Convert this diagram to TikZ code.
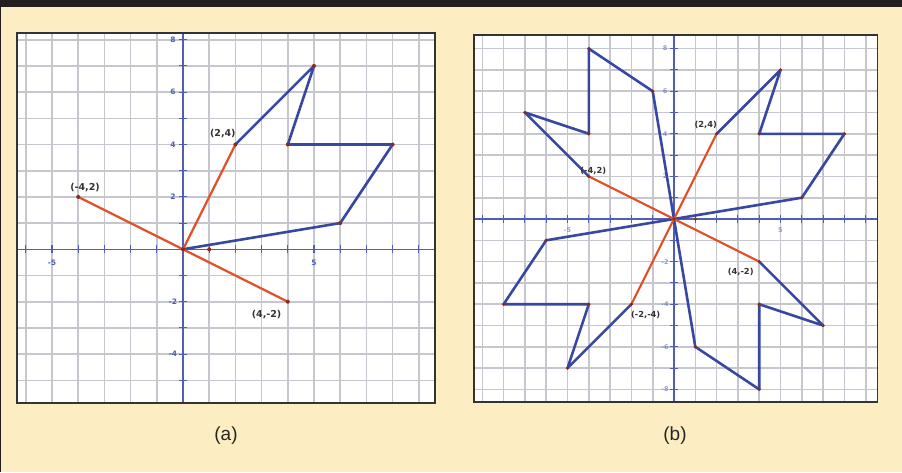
\documentclass[tikz,border=0pt]{standalone}
\usepackage{fontspec}
\setmainfont{Liberation Sans}
\newfontfamily\lblfont{DejaVu Sans}

\definecolor{paper}{HTML}{FCEEC2}
\definecolor{topband}{HTML}{231F20}
\definecolor{gridgray}{HTML}{C6C6CE}
\definecolor{axisblue}{HTML}{4F5EB6}
\definecolor{shapeblue}{HTML}{3847A2}
\definecolor{rayred}{HTML}{E0512B}
\definecolor{dotred}{HTML}{8A2B1C}

\tikzset{
  gridline/.style={gridgray, line width=1.6pt},
  axisline/.style={axisblue, line width=1.1pt},
  shapeline/.style={shapeblue, line width=2.6pt, line join=round},
  rayline/.style={rayred, line width=2.2pt},
  panelframe/.style={draw=black!80, line width=1.3pt},
  ticklbl/.style={text=axisblue, font=\lblfont\bfseries\fontsize{7.5}{8}\selectfont},
  ptlbl/.style={text=black!80, font=\lblfont\bfseries\fontsize{9.5}{10}\selectfont},
  caption/.style={text=black!85, font=\fontsize{19}{21}\selectfont}
}

\begin{document}
\begin{tikzpicture}[x=1pt, y=-1pt]
    \useasboundingbox (0,0) rectangle (902,472);
    \fill[paper] (0,0) rectangle (902,472);
    \fill[topband] (0,0) rectangle (902,7);
    \fill[topband] (0,7) rectangle (1.3,472);

    % (a) one shape, with the rays from the origin
    \begin{scope}[shift={(183pt,-249.3pt)}, x=26.2pt, y=26.2pt]
        \fill[white] (-6.34,-5.87) rectangle (9.62,8.26);
        \foreach \i in {-6,...,9} \draw[gridline] (\i,-5.87) -- (\i,8.26);
        \foreach \j in {-5,...,8} \draw[gridline] (-6.34,\j) -- (9.62,\j);

        \draw[axisline] (-6.34,0) -- (9.62,0);
        \draw[axisline] (0,-5.87) -- (0,8.26);
        \foreach \i in {-6,...,9} \draw[axisline] (\i,-0.15) -- (\i,0.15);
        \foreach \j in {-5,...,8} \draw[axisline] (-0.15,\j) -- (0.15,\j);
        \node[ticklbl] (axm5) at (-5,-0.5) {-5};
        \node[ticklbl] (axp5) at (5,-0.5) {5};
        \foreach \j in {8,6,4,2,-2,-4} \node[ticklbl] (ay\j) at (-0.38,\j) {\j};

        \draw[shapeline] (0,0) -- (6,1) -- (8,4) -- (4,4) -- (5,7) -- (2,4);
        \draw[rayline] (-4,2) -- (0,0) -- (2,4);
        \draw[rayline] (0,0) -- (4,-2);
        \foreach \p in {(0,0),(1,0),(6,1),(8,4),(4,4),(5,7),(2,4),(-4,2),(4,-2)}
            \fill[dotred] \p circle (2pt);

        \node[ptlbl] (pa1) at (1.52,4.43) {(2,4)};
        \node[ptlbl] (pa2) at (-3.74,2.35) {(-4,2)};
        \node[ptlbl] (pa3) at (3.19,-2.51) {(4,-2)};

        \draw[panelframe] (-6.34,-5.87) rectangle (9.62,8.26);
    \end{scope}

    % (b) the shape turned four times about the origin
    \begin{scope}[shift={(674pt,-219pt)}, x=21.3pt, y=21.3pt]
        \fill[white] (-9.39,-8.59) rectangle (9.55,8.64);
        \foreach \i in {-9,...,9} \draw[gridline] (\i,-8.59) -- (\i,8.64);
        \foreach \j in {-8,...,8} \draw[gridline] (-9.39,\j) -- (9.55,\j);

        \draw[axisline] (-9.39,0) -- (9.55,0);
        \draw[axisline] (0,-8.59) -- (0,8.64);
        \foreach \i in {-9,...,9} \draw[axisline] (\i,-0.18) -- (\i,0.18);
        \foreach \j in {-8,...,8} \draw[axisline] (-0.18,\j) -- (0.18,\j);
        \node[ticklbl, opacity=0.6, font=\lblfont\bfseries\fontsize{6.5}{7}\selectfont] (bxm5) at (-5,-0.52) {-5};
        \node[ticklbl, opacity=0.6, font=\lblfont\bfseries\fontsize{6.5}{7}\selectfont] (bxp5) at (5,-0.52) {5};
        \foreach \j in {8,6,4,2,-2,-4,-6,-8}
            \node[ticklbl, opacity=0.6, font=\lblfont\bfseries\fontsize{6.5}{7}\selectfont] (by\j) at (-0.42,\j) {\j};

        \foreach \r in {0,90,180,270} {
            \begin{scope}[rotate=\r]
                \draw[shapeline] (0,0) -- (6,1) -- (8,4) -- (4,4) -- (5,7) -- (2,4);
            \end{scope}
        }
        \foreach \r in {0,90,180,270} {
            \begin{scope}[rotate=\r]
                \draw[rayline] (0,0) -- (2,4);
                \foreach \p in {(6,1),(8,4),(4,4),(5,7),(2,4)}
                    \fill[dotred] \p circle (1.8pt);
            \end{scope}
        }
        \fill[dotred] (0,0) circle (1.8pt);
        \fill[dotred] (1,0) circle (1.8pt);

        \node[ptlbl, font=\lblfont\bfseries\fontsize{8.3}{9}\selectfont] (pb1) at (1.49,4.40) {(2,4)};
        \node[ptlbl, font=\lblfont\bfseries\fontsize{8.3}{9}\selectfont] (pb2) at (-3.79,2.27) {(-4,2)};
        \node[ptlbl, font=\lblfont\bfseries\fontsize{8.3}{9}\selectfont] (pb3) at (-1.33,-4.51) {(-2,-4)};
        \node[ptlbl, font=\lblfont\bfseries\fontsize{8.3}{9}\selectfont] (pb4) at (3.13,-2.49) {(4,-2)};

        \draw[panelframe] (-9.39,-8.59) rectangle (9.55,8.64);
    \end{scope}

    \node[caption] (capa) at (226,436) {(a)};
    \node[caption] (capb) at (675,436) {(b)};
\end{tikzpicture}
\end{document}
